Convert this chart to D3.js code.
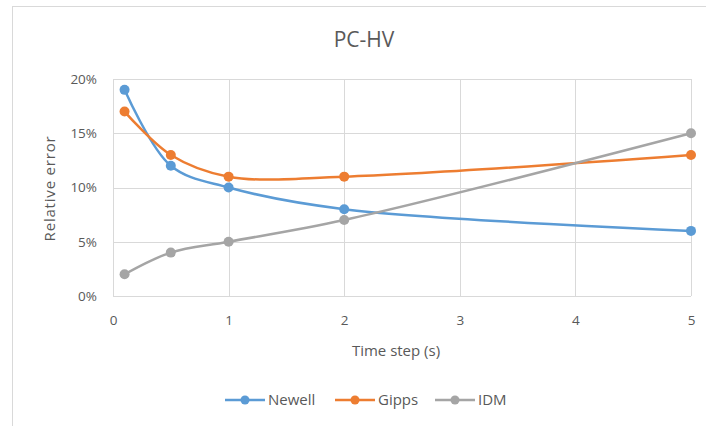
<!DOCTYPE html>
<html>
<head>
<meta charset="utf-8">
<script src="https://cdn.jsdelivr.net/npm/d3@7"></script>
<style>
  html, body { margin: 0; padding: 0; background: #fff; }
  svg { display: block; font-family: "Open Sans", "Noto Sans", sans-serif; }
</style>
</head>
<body>
<svg id="chart" width="706" height="426"></svg>
<script>
// Time steps (s) and relative error (%) per model
const timeSteps = [0.1, 0.5, 1, 2, 5];
const newell = [19, 12, 10, 8, 6];
const gipps = [17, 13, 11, 11, 13];
const idm = [2, 4, 5, 7, 15];
const seriesNames = ["Newell", "Gipps", "IDM"];
const seriesColors = ["#5B9BD5", "#ED7D31", "#A5A5A5"];
const xTicks = [0, 1, 2, 3, 4, 5];
const yTicks = [0, 5, 10, 15, 20];

const series = [newell, gipps, idm].map((vals, i) => ({
  name: seriesNames[i],
  color: seriesColors[i],
  points: vals.map((v, j) => ({ t: timeSteps[j], v }))
}));

const svg = d3.select("#chart");
const textColor = "#595959";
const gridColor = "#D9D9D9";

// Chart frame
svg.append("rect")
  .attr("x", 12.5).attr("y", 6.5)
  .attr("width", 720).attr("height", 440)
  .attr("fill", "none").attr("stroke", "#D9D9D9").attr("stroke-width", 1);

const plot = { left: 113, right: 691, top: 79, bottom: 296 };
const x = d3.scaleLinear().domain([0, 5]).range([plot.left, plot.right]);
const y = d3.scaleLinear().domain([0, 20]).range([plot.bottom, plot.top]);

// Title
svg.append("text")
  .attr("x", 364).attr("y", 47)
  .attr("text-anchor", "middle")
  .attr("font-size", 21)
  .attr("fill", textColor)
  .text("PC-HV");

// Gridlines
const grid = svg.append("g");
grid.selectAll("line.h").data(yTicks).join("line")
  .attr("x1", plot.left).attr("x2", plot.right)
  .attr("y1", d => Math.round(y(d)) + 0.5).attr("y2", d => Math.round(y(d)) + 0.5)
  .attr("stroke", gridColor);
grid.selectAll("line.v").data(xTicks).join("line")
  .attr("y1", plot.top).attr("y2", plot.bottom)
  .attr("x1", d => Math.round(x(d)) + 0.5).attr("x2", d => Math.round(x(d)) + 0.5)
  .attr("stroke", gridColor);

// Axes
const yAxis = d3.axisLeft(y).tickValues(yTicks).tickFormat(d => d + "%").tickSize(0).tickPadding(16);
const gy = svg.append("g").attr("transform", `translate(${plot.left},0)`).call(yAxis);
gy.select(".domain").remove();
gy.selectAll("text").attr("font-size", 13.5).attr("fill", textColor).attr("font-family", "Open Sans, sans-serif");

const xAxis = d3.axisBottom(x).tickValues(xTicks).tickFormat(d3.format("d")).tickSize(0).tickPadding(19);
const gx = svg.append("g").attr("transform", `translate(0,${plot.bottom})`).call(xAxis);
gx.select(".domain").remove();
gx.selectAll("text").attr("font-size", 13.5).attr("fill", textColor).attr("font-family", "Open Sans, sans-serif");

// Axis titles
svg.append("text")
  .attr("x", 396).attr("y", 356)
  .attr("text-anchor", "middle")
  .attr("font-size", 15).attr("fill", textColor)
  .text("Time step (s)");
svg.append("text")
  .attr("transform", `translate(55,${(plot.top + plot.bottom) / 2 + 1}) rotate(-90)`)
  .attr("text-anchor", "middle")
  .attr("font-size", 15).attr("letter-spacing", 0.8).attr("fill", textColor)
  .text("Relative error");

// Smoothed series lines with markers
const line = d3.line()
  .x(d => x(d.t)).y(d => y(d.v))
  .curve(d3.curveCatmullRom.alpha(0.5));

const sg = svg.append("g").selectAll("g").data(series).join("g");
sg.append("path")
  .attr("d", d => line(d.points))
  .attr("fill", "none")
  .attr("stroke", d => d.color)
  .attr("stroke-width", 2.5)
  .attr("stroke-linejoin", "round");
sg.selectAll("circle").data(d => d.points.map(p => ({ ...p, color: d.color }))).join("circle")
  .attr("cx", d => x(d.t)).attr("cy", d => y(d.v))
  .attr("r", 5)
  .attr("fill", d => d.color);

// Legend
const legendX = [225, 335, 435];
const lg = svg.append("g").selectAll("g").data(series).join("g")
  .attr("transform", (d, i) => `translate(${legendX[i]},400)`);
lg.append("line")
  .attr("x1", 0).attr("x2", 40).attr("y1", 0).attr("y2", 0)
  .attr("stroke", d => d.color).attr("stroke-width", 2.5);
lg.append("circle").attr("cx", 20).attr("cy", 0).attr("r", 4.5).attr("fill", d => d.color);
lg.append("text")
  .attr("x", 43).attr("y", 5)
  .attr("font-size", 15).attr("fill", textColor)
  .text(d => d.name);
</script>
</body>
</html>
